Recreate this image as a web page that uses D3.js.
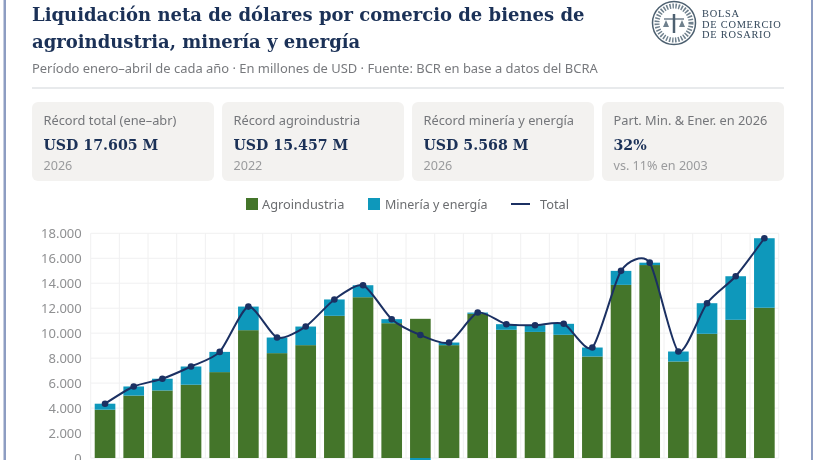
<!DOCTYPE html>
<html>
<head>
<meta charset="utf-8">
<script src="https://cdn.jsdelivr.net/npm/d3@7"></script>
<style>
  html, body { margin: 0; padding: 0; background: #fff; overflow: hidden; }
  svg { display: block; filter: blur(0.3px); }
  text { font-family: "Noto Sans", sans-serif; }
  .serif { font-family: "DejaVu Serif", serif; }
</style>
</head>
<body>
<div id="GraphContainer"></div>
<script>
const years = [2003, 2004, 2005, 2006, 2007, 2008, 2009, 2010, 2011, 2012, 2013, 2014, 2015, 2016, 2017, 2018, 2019, 2020, 2021, 2022, 2023, 2024, 2025, 2026];
const agro = [3870, 5000, 5410, 5870, 6880, 10240, 8400, 9040, 11390, 12880, 10800, 11150, 9040, 11550, 10270, 10100, 9870, 8130, 13870, 15457, 7730, 9950, 11070, 12037];
const mining = [480, 730, 940, 1460, 1620, 1890, 1250, 1490, 1310, 960, 320, -1300, 210, 100, 450, 540, 880, 720, 1120, 190, 800, 2450, 3490, 5568];
const total = [4350, 5730, 6350, 7330, 8500, 12130, 9650, 10530, 12700, 13840, 11120, 9850, 9250, 11650, 10720, 10640, 10750, 8850, 14990, 15647, 8530, 12400, 14560, 17605];
const yTicks = [0, 2000, 4000, 6000, 8000, 10000, 12000, 14000, 16000, 18000];

const titleLines = ['Liquidación neta de dólares por comercio de bienes de', 'agroindustria, minería y energía'];
const subtitle = 'Período enero–abril de cada año · En millones de USD · Fuente: BCR en base a datos del BCRA';
const cardLabels = ['Récord total (ene–abr)', 'Récord agroindustria', 'Récord minería y energía', 'Part. Min. & Ener. en 2026'];
const cardValues = ['USD 17.605 M', 'USD 15.457 M', 'USD 5.568 M', '32%'];
const cardNotes = ['2026', '2022', '2026', 'vs. 11% en 2003'];
const logoLines = ['BOLSA', 'DE COMERCIO', 'DE ROSARIO'];

const green = '#44752a';
const blue = '#0e98bb';
const navy = '#1b3062';

const svg = d3.select('#GraphContainer')
  .append('svg')
  .attr('width', 817)
  .attr('height', 460);

// frame, cut off at the bottom of the picture
svg.append('rect').attr('x', 3.5).attr('y', -4).attr('width', 2.5).attr('height', 470).attr('fill', '#8d9dc2');
svg.append('rect').attr('x', 811).attr('y', -4).attr('width', 2).attr('height', 470).attr('fill', '#8d9dc2');

// header
svg.selectAll('.title')
  .data(titleLines)
  .enter()
  .append('text')
  .attr('class', 'serif')
  .attr('x', 32)
  .attr('y', (d, i) => 21 + i * 27)
  .attr('font-size', 18)
  .attr('font-weight', 700)
  .attr('fill', '#1b3157')
  .text(d => d);

svg.append('text')
  .attr('x', 32)
  .attr('y', 73)
  .attr('font-size', 12.95)
  .attr('fill', '#77797d')
  .text(subtitle);

svg.append('line')
  .attr('x1', 32).attr('x2', 784)
  .attr('y1', 88).attr('y2', 88)
  .attr('stroke', '#e1e3e6')
  .attr('stroke-width', 1.5);

// logo
const logo = svg.append('g').attr('transform', 'translate(674,23)');
logo.append('circle').attr('r', 21.5).attr('fill', '#fff').attr('stroke', '#4d6070').attr('stroke-width', 1.5);
logo.append('circle').attr('r', 17).attr('fill', 'none').attr('stroke', '#6f808d').attr('stroke-width', 5).attr('stroke-dasharray', '1.5 1.5');
logo.append('line').attr('x1', -10).attr('x2', 10).attr('y1', -4).attr('y2', -4).attr('stroke', '#4d6070').attr('stroke-width', 1.2);
logo.append('line').attr('x1', 0).attr('x2', 0).attr('y1', -9).attr('y2', 10).attr('stroke', '#4d6070').attr('stroke-width', 2.5);
logo.append('path').attr('d', 'M-11,4 h6 l-3,-7 z M5,4 h6 l-3,-7 z').attr('fill', '#6f808d');

svg.selectAll('.logotext')
  .data(logoLines)
  .enter()
  .append('text')
  .attr('class', 'logotext')
  .attr('x', 702)
  .attr('y', (d, i) => 17 + i * 10.5)
  .attr('font-size', 10.4)
  .attr('letter-spacing', 0.75)
  .attr('fill', '#33475a')
  .style('font-family', '"Liberation Serif", serif')
  .text(d => d);

// cards
const cardX = d3.scaleBand().domain(d3.range(4)).range([32, 792]);
const cards = svg.selectAll('.card')
  .data(cardLabels)
  .enter()
  .append('g')
  .attr('class', 'card')
  .attr('transform', (d, i) => `translate(${cardX(i)},102)`);

cards.append('rect')
  .attr('width', 182)
  .attr('height', 79)
  .attr('rx', 6)
  .attr('fill', '#f3f2f0');

cards.append('text')
  .attr('x', 11.5)
  .attr('y', 23)
  .attr('font-size', 12.8)
  .attr('fill', '#74767a')
  .text(d => d);

cards.append('text')
  .attr('class', 'serif')
  .attr('x', 11.5)
  .attr('y', 47.5)
  .attr('font-size', 14.2)
  .attr('font-weight', 700)
  .attr('fill', '#1b3157')
  .text((d, i) => cardValues[i]);

cards.append('text')
  .attr('x', 11.5)
  .attr('y', 68)
  .attr('font-size', 12.6)
  .attr('fill', '#9a9b9d')
  .text((d, i) => cardNotes[i]);

// legend
const legendY = 204;
svg.append('rect').attr('x', 246).attr('y', legendY - 6).attr('width', 12).attr('height', 12).attr('fill', green);
svg.append('text').attr('x', 262).attr('y', legendY + 4.5).attr('font-size', 12.8).attr('fill', '#6b6d70').text('Agroindustria');
svg.append('rect').attr('x', 368).attr('y', legendY - 6).attr('width', 12).attr('height', 12).attr('fill', blue);
svg.append('text').attr('x', 385).attr('y', legendY + 4.5).attr('font-size', 12.5).attr('fill', '#6b6d70').text('Minería y energía');
svg.append('line').attr('x1', 511).attr('x2', 530).attr('y1', legendY).attr('y2', legendY).attr('stroke', navy).attr('stroke-width', 2);
svg.append('text').attr('x', 540).attr('y', legendY + 4.5).attr('font-size', 12.8).attr('fill', '#6b6d70').text('Total');

// chart
const xScale = d3.scaleBand()
  .domain(years)
  .range([90.7, 778.7])
  .paddingInner(0.28)
  .paddingOuter(0.14);

const yScale = d3.scaleLinear()
  .domain([0, 18000])
  .range([458, 233.3]);

const step = xScale.step();

svg.append('g')
  .selectAll('line')
  .data(yTicks)
  .enter()
  .append('line')
  .attr('x1', 90.7)
  .attr('x2', 778.7)
  .attr('y1', d => yScale(d))
  .attr('y2', d => yScale(d))
  .attr('stroke', '#f0f0f1');

svg.append('g')
  .selectAll('line')
  .data(years.concat(['end']))
  .enter()
  .append('line')
  .attr('x1', (d, i) => 90.7 + i * step)
  .attr('x2', (d, i) => 90.7 + i * step)
  .attr('y1', yScale(18000))
  .attr('y2', yScale(0))
  .attr('stroke', '#f0f0f1');

const yAxis = d3.axisLeft(yScale)
  .tickValues(yTicks)
  .tickSize(0)
  .tickPadding(9)
  .tickFormat(d => d3.format(',')(d).replace(',', '.'));

const yAxisG = svg.append('g')
  .attr('transform', 'translate(90.7,0)')
  .call(yAxis);
yAxisG.select('.domain').remove();
yAxisG.selectAll('text')
  .attr('font-size', 13)
  .attr('fill', '#8f9092')
  .style('font-family', '"Noto Sans", sans-serif');

svg.selectAll('.agro')
  .data(years)
  .enter()
  .append('rect')
  .attr('class', 'agro')
  .attr('x', d => xScale(d))
  .attr('width', xScale.bandwidth())
  .attr('y', (d, i) => yScale(agro[i]))
  .attr('height', (d, i) => yScale(0) - yScale(agro[i]))
  .attr('fill', green);

svg.selectAll('.mining')
  .data(years)
  .enter()
  .append('rect')
  .attr('class', 'mining')
  .attr('x', d => xScale(d))
  .attr('width', xScale.bandwidth())
  .attr('y', (d, i) => mining[i] < 0 ? yScale(0) : yScale(agro[i] + mining[i]))
  .attr('height', (d, i) => mining[i] < 0 ? yScale(mining[i]) - yScale(0) : yScale(agro[i]) - yScale(agro[i] + mining[i]))
  .attr('fill', blue);

const line = d3.line()
  .x((d, i) => xScale(years[i]) + xScale.bandwidth() / 2)
  .y(d => yScale(d))
  .curve(d3.curveCardinal.tension(0.3));

svg.append('path')
  .datum(total)
  .attr('d', line)
  .attr('fill', 'none')
  .attr('stroke', navy)
  .attr('stroke-width', 2);

svg.selectAll('.point')
  .data(total)
  .enter()
  .append('circle')
  .attr('class', 'point')
  .attr('cx', (d, i) => xScale(years[i]) + xScale.bandwidth() / 2)
  .attr('cy', d => yScale(d))
  .attr('r', 3.3)
  .attr('fill', navy);
</script>
</body>
</html>
